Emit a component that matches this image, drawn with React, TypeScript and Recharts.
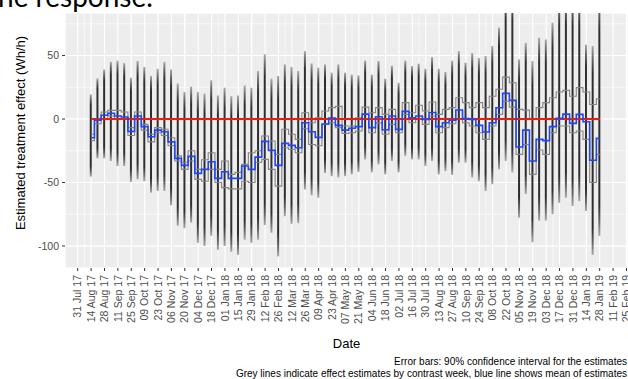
import React from "react";
import { ComposedChart, Bar, Line, XAxis, YAxis, CartesianGrid, ReferenceLine } from "recharts";

// weekly estimates, starting week of 14 Aug 17
const meanEffect = [
  -14.7, -1, 3, 4.5, 2.4, 1.6, -9.7, 2.4, -6, -14, -8.7, -10, -18, -31, -36.5, -29.4, -42.8, -39.6, -33.6, -46.7,
  -41.5, -46.7, -46.7, -37, -39.6, -30, -17.6, -24.7, -36.5, -19.2, -20.7, -22.6, -2.9, -10, -14.4, -3.9, 0.8, -5, -8.7, -7.3,
  -6, 3.9, -6.8, 1.8, -8.4, 2.4, -8.1, 6, 1, 2.4, -0.3, 5.2, -6, -2.9, -1, 7.1, 0.3, -0.3, -5, -10.2,
  -2.9, 8.9, 20.2, 14.7, -22, -8.7, -33, -16, -17, -6, 0.5, 3.9, -3.4, 3.7, -2.1, -32.5, -15.2,
];
const ciHigh = [
  19.4, 32, 39, 45, 46, 44, 32.5, 45.7, 41, 34, 39.6, 45, 39, 28, 21.3, 25.5, 21.3, 20, 30.5, 18.6,
  24.7, 18, 18.6, 26.5, 24.7, 37.8, 51, 31.8, 33.9, 43, 41, 37.8, 53.5, 43.8, 40.4, 43, 36.5, 43, 36.5, 35,
  34.4, 46, 35, 45.7, 31.8, 42, 28.6, 46, 41.7, 43.6, 39.6, 48.8, 39.6, 37, 46, 53.5, 44.4, 52, 48, 49.6,
  57.5, 72, 95, 95, 47, 60, 45.7, 64, 62.7, 75.8, 95, 95, 95, 95, 58.5, 57.5, 95,
];
const ciLow = [
  -45.4, -31, -31, -33, -37, -37, -49.6, -47.5, -49, -58, -56.7, -56.7, -68, -84, -86, -81.6, -97.5, -100, -92, -103,
  -100, -104.5, -107, -95, -97.5, -95, -83.5, -89.5, -108.2, -76.5, -82.5, -82, -55.5, -60, -62, -42.5, -45, -46, -45, -43.6,
  -41.7, -31.8, -42, -35.7, -43.6, -33, -42, -29, -31.8, -31.8, -37, -33, -43.6, -41, -44, -34.4, -34.4, -46, -49, -56.7,
  -51.4, -39.6, -33, -42, -77.7, -59, -97, -80, -80, -75, -66, -62, -68.5, -64.6, -72.4, -107, -92,
];
const greyUpper = [
  -12, 0, 5.5, 6.8, 6.8, 5.5, -6.8, 5.5, -4.2, -12, -6.8, -8, -14.7, -29, -34, -25, -39.6, -32, -26.5, -39.6,
  -33, -43.6, -42, -35.7, -26.5, -25, -13.4, -17.3, -27.8, -8, -12, -16, 5, -2.9, 1, 6.3, 9, 10, -5.5, -5.5,
  1, 9.4, 5, 9, 3.7, 7.6, 0, 12.9, 5, 10.8, 6.3, 13.4, 3.7, 7.6, 9, 16.8, 12.9, 9, 12.9, 9,
  18, 23.4, 33, 28.6, 7.6, 7, 0, 9, 12.9, 16.8, 21.3, 22.6, 18, 24.7, 21.3, 11.5, 16,
];
const greyLower = [
  -17, -3.7, 0, 2.4, 0, 0, -13, 0, -8.7, -18, -10.8, -13, -21, -33, -39.6, -33, -47.5, -49, -39.6, -50,
  -54, -55, -55, -49, -50, -34, -31.8, -39.6, -52.8, -22.6, -24, -26.5, -7.6, -20, -21, -4.2, -2.9, -6.8, -11.3, -10.8,
  -9.4, 0, -10.8, -3, -12, -4.2, -10.8, 3.7, -2.9, 0, -4.2, 2.4, -10.8, -6.8, -3.7, 0, -2.9, -5.5, -10.8, -16,
  -5.5, 3.7, 14, 9.4, -27.8, -20, -43.6, -24.4, -27.8, -10.8, -5.5, -5.5, -10.8, -9.4, -16, -50, -27.8,
];

const tickLabels = [
  "31 Jul 17", "14 Aug 17", "28 Aug 17", "11 Sep 17", "25 Sep 17", "09 Oct 17", "23 Oct 17", "06 Nov 17",
  "20 Nov 17", "04 Dec 17", "18 Dec 17", "01 Jan 18", "15 Jan 18", "29 Jan 18", "12 Feb 18", "26 Feb 18",
  "12 Mar 18", "26 Mar 18", "09 Apr 18", "23 Apr 18", "07 May 18", "21 May 18", "04 Jun 18", "18 Jun 18",
  "02 Jul 18", "16 Jul 18", "30 Jul 18", "13 Aug 18", "27 Aug 18", "10 Sep 18", "24 Sep 18", "08 Oct 18",
  "22 Oct 18", "05 Nov 18", "19 Nov 18", "03 Dec 18", "17 Dec 18", "31 Dec 18", "14 Jan 19", "28 Jan 19",
  "11 Feb 19", "25 Feb 19",
];
const yTicks = [-100, -50, 0, 50];
const yMinorTicks = [-100, -75, -50, -25, 0, 25, 50, 75];

const MONTHS: Record<string, number> = {
  Jan: 0, Feb: 1, Mar: 2, Apr: 3, May: 4, Jun: 5, Jul: 6, Aug: 7, Sep: 8, Oct: 9, Nov: 10, Dec: 11,
};
const origin = Date.UTC(2017, 6, 31);
function dayOf(label: string) {
  const [d, m, y] = label.split(" ");
  return (Date.UTC(2000 + Number(y), MONTHS[m], Number(d)) - origin) / 864e5;
}

const tickDays = tickLabels.map(dayOf);
const labelByDay: Record<number, string> = {};
tickLabels.forEach((l, i) => (labelByDay[tickDays[i]] = l));
const minorDays = [-7, ...tickDays.flatMap((d) => [d, d + 7])];
const firstWeek = dayOf("14 Aug 17");

const rows = meanEffect.map((m, i) => ({
  day: firstWeek + 7 * i,
  mean: m,
  ci: [ciLow[i], ciHigh[i]],
  greyHi: greyUpper[i],
  greyLo: greyLower[i],
}));

const X_DOMAIN: [number, number] = [-13.3, 575.6];
const Y_DOMAIN: [number, number] = [-117.3, 83.5];
const FONT = "'Liberation Sans', Arial, sans-serif";

function DateTick({ x, y, payload }: any) {
  return (
    <text
      x={x}
      y={y}
      transform={`rotate(-90 ${x} ${y})`}
      textAnchor="end"
      dy="0.35em"
      fill="#4d4d4d"
      fontSize={10.5}
      fontFamily={FONT}
    >
      {labelByDay[payload.value]}
    </text>
  );
}

export default function App() {
  return (
    <div style={{ position: "absolute", left: 0, top: 0, width: 628, height: 379, overflow: "hidden", background: "#fff" }}>
      <ComposedChart width={628} height={379} data={rows} margin={{ top: 13, right: 0, left: 0, bottom: 0 }}>
        <defs>
          <linearGradient id="ebar" x1="0" y1="0" x2="0" y2="1">
            <stop offset="0" stopColor="#aaaaaa" />
            <stop offset="0.06" stopColor="#666" />
            <stop offset="0.13" stopColor="#2e2e2e" />
            <stop offset="0.87" stopColor="#2e2e2e" />
            <stop offset="0.94" stopColor="#666" />
            <stop offset="1" stopColor="#aaaaaa" />
          </linearGradient>
        </defs>
        <XAxis xAxisId="minor" type="number" dataKey="day" domain={X_DOMAIN} ticks={minorDays} allowDataOverflow hide />
        <YAxis yAxisId="minor" type="number" domain={Y_DOMAIN} ticks={yMinorTicks} allowDataOverflow hide />
        <CartesianGrid xAxisId="minor" yAxisId="minor" stroke="#ffffff" strokeWidth={0.6} fill="#ededed" fillOpacity={1} />
        <XAxis
          type="number"
          dataKey="day"
          domain={X_DOMAIN}
          ticks={tickDays}
          allowDataOverflow
          axisLine={false}
          tickSize={3}
          tickMargin={4}
          tickLine={{ stroke: "#333" }}
          tick={<DateTick />}
          interval={0}
          height={111}
        />
        <YAxis
          type="number"
          domain={Y_DOMAIN}
          ticks={yTicks}
          allowDataOverflow
          axisLine={false}
          tickSize={3}
          tickMargin={3}
          tickLine={{ stroke: "#333" }}
          tick={{ fill: "#4d4d4d", fontSize: 10.5, fontFamily: FONT }}
          width={65}
        />
        <CartesianGrid stroke="#ffffff" strokeWidth={1.1} />
        <Bar dataKey="ci" barSize={2} fill="url(#ebar)" isAnimationActive={false} />
        <Line type="step" dataKey="greyHi" stroke="#858585" strokeWidth={1.1} dot={false} isAnimationActive={false} />
        <Line type="step" dataKey="greyLo" stroke="#858585" strokeWidth={1.1} dot={false} isAnimationActive={false} />
        <ReferenceLine
          segment={[
            { x: rows[0].day, y: 0 },
            { x: rows[rows.length - 1].day, y: 0 },
          ]}
          stroke="#ee1c0e"
          strokeWidth={2}
        />
        <Line type="step" dataKey="mean" stroke="#1f45ff" strokeWidth={1.6} dot={false} isAnimationActive={false} />
      </ComposedChart>
      <svg width={628} height={379} style={{ position: "absolute", left: 0, top: 0, pointerEvents: "none" }}>
        <text x={-12} y={7} fontFamily="Lato, 'Open Sans', sans-serif" fontSize={28} fill="#000">
          the response.
        </text>
        <text
          x={20}
          y={133}
          transform="rotate(-90 20 133)"
          textAnchor="middle"
          dy="0.35em"
          fontFamily={FONT}
          fontSize={13}
          fill="#000"
        >
          Estimated treatment effect (Wh/h)
        </text>
        <text x={346.5} y={348} textAnchor="middle" fontFamily={FONT} fontSize={13} fill="#000">
          Date
        </text>
        <text x={627} y={365} textAnchor="end" fontFamily={FONT} fontSize={10} fill="#000">
          Error bars: 90% confidence interval for the estimates
        </text>
        <text x={627} y={377} textAnchor="end" fontFamily={FONT} fontSize={10} fill="#000">
          Grey lines indicate effect estimates by contrast week, blue line shows mean of estimates
        </text>
      </svg>
    </div>
  );
}
